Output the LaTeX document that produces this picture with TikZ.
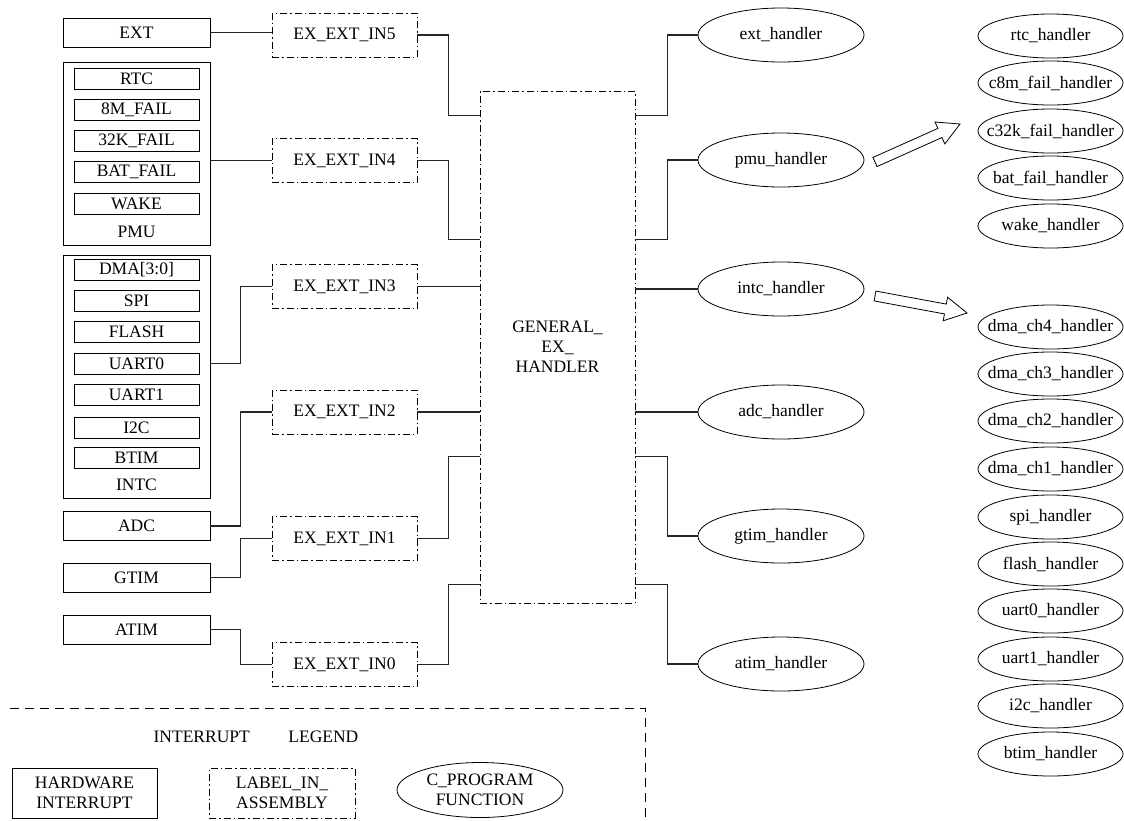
\documentclass[tikz,border=0pt]{standalone}
\usepackage{fontspec}
\setmainfont{Liberation Serif}
\usetikzlibrary{shapes.geometric,calc}
\newcommand\zb[1]{\makebox[0pt]{#1}}
\newcommand\harr[2]{%
  \coordinate (#1h) at ($(#2)!22pt!(#1)$);
  \draw[harrow] ($(#1)!5pt!90:(#2)$) -- ($(#1h)!5pt!-90:(#1)$) -- ($(#1h)!12pt!-90:(#1)$) -- (#2)
    -- ($(#1h)!12pt!90:(#1)$) -- ($(#1h)!5pt!90:(#1)$) -- ($(#1)!5pt!-90:(#2)$) -- cycle;}
\begin{document}
\begin{tikzpicture}[x=1pt,y=-1pt,
  every node/.style={font=\fontsize{17.5}{20}\selectfont, inner sep=0pt},
  hw/.style={draw, line width=0.8pt, minimum width=147pt, minimum height=29pt},
  sub/.style={draw, line width=0.8pt, minimum width=125pt, minimum height=21pt},
  grp/.style={draw, line width=0.8pt, minimum width=147pt},
  lbl/.style={draw, line width=0.8pt, dash pattern=on 7pt off 3pt on 1.5pt off 3pt, minimum width=145pt, minimum height=44pt},
  fn/.style={draw, ellipse, line width=0.8pt, minimum width=166pt, minimum height=54pt},
  sfn/.style={draw, ellipse, line width=0.8pt, minimum width=145pt, minimum height=44pt},
  wire/.style={draw, line width=1.2pt, black!85},
  harrow/.style={draw, line width=0.8pt}]
\useasboundingbox (0,0) rectangle (1124,820);

% hardware sources
\node[hw] (ext) at (136.5,32.5) {EXT};
\node[grp, minimum height=183pt] (pmu) at (136.5,153.5) {};
\node[sub] (rtc) at (136.5,78.5) {RTC};
\node[sub] (m8) at (136.5,109.5) {8M\_FAIL};
\node[sub] (k32) at (136.5,140.5) {32K\_FAIL};
\node[sub] (bat) at (136.5,171.5) {BAT\_FAIL};
\node[sub] (wake) at (136.5,203.5) {WAKE};
\node (pmul) at (136.5,232) {PMU};
\node[grp, minimum height=243pt] (intc) at (136.5,376.5) {};
\node[sub] (dma) at (136.5,269.5) {DMA[3:0]};
\node[sub] (spi) at (136.5,300.5) {SPI};
\node[sub] (flash) at (136.5,331.5) {FLASH};
\node[sub] (uart0) at (136.5,363.5) {UART0};
\node[sub] (uart1) at (136.5,394.5) {UART1};
\node[sub] (i2c) at (136.5,427.5) {I2C};
\node[sub] (btim) at (136.5,457.5) {BTIM};
\node (intcl) at (136.5,485) {INTC};
\node[hw] (adc) at (136.5,526) {ADC};
\node[hw] (gtim) at (136.5,577.5) {GTIM};
\node[hw] (atim) at (136.5,629.5) {ATIM};

% assembly labels
\node[lbl] (in5) at (344.5,35) {EX\_EXT\_IN5};
\node[lbl] (in4) at (344.5,160.5) {EX\_EXT\_IN4};
\node[lbl] (in3) at (344.5,286.5) {EX\_EXT\_IN3};
\node[lbl] (in2) at (344.5,412) {EX\_EXT\_IN2};
\node[lbl] (in1) at (344.5,538.5) {EX\_EXT\_IN1};
\node[lbl] (in0) at (344.5,664.5) {EX\_EXT\_IN0};

\node[lbl, minimum width=155pt, minimum height=512pt, align=center] (geh) at (557.5,347) {GENERAL\_\\EX\_\\HANDLER};

% handlers
\node[fn] (exth) at (781,35) {ext\_handler};
\node[fn] (pmuh) at (781,160) {pmu\_handler};
\node[fn] (intch) at (781,289) {intc\_handler};
\node[fn] (adch) at (781,412) {adc\_handler};
\node[fn] (gtimh) at (781,536) {gtim\_handler};
\node[fn] (atimh) at (781,664) {atim\_handler};

\node[sfn] (rtch) at (1050.5,36) {\zb{rtc\_handler}};
\node[sfn] (c8mh) at (1050.5,83) {\zb{c8m\_fail\_handler}};
\node[sfn] (c32kh) at (1050.5,131) {\zb{c32k\_fail\_handler}};
\node[sfn] (bath) at (1050.5,178) {\zb{bat\_fail\_handler}};
\node[sfn] (wakeh) at (1050.5,226) {\zb{wake\_handler}};
\node[sfn] (d4h) at (1050.5,327) {\zb{dma\_ch4\_handler}};
\node[sfn] (d3h) at (1050.5,374) {\zb{dma\_ch3\_handler}};
\node[sfn] (d2h) at (1050.5,421) {\zb{dma\_ch2\_handler}};
\node[sfn] (d1h) at (1050.5,469) {\zb{dma\_ch1\_handler}};
\node[sfn] (spih) at (1050.5,517) {\zb{spi\_handler}};
\node[sfn] (flashh) at (1050.5,564) {\zb{flash\_handler}};
\node[sfn] (u0h) at (1050.5,611) {\zb{uart0\_handler}};
\node[sfn] (u1h) at (1050.5,659) {\zb{uart1\_handler}};
\node[sfn] (i2ch) at (1050.5,706) {\zb{i2c\_handler}};
\node[sfn] (btimh) at (1050.5,754) {\zb{btim\_handler}};

% wires left
\draw[wire] (ext.east) -- (ext.east -| in5.west);
\draw[wire] (pmu.east |- in4.west) -- (in4.west);
\draw[wire] (uart0 -| intc.east) -- ++(30,0) |- (in3.west);
\draw[wire] (adc.east) -- ++(30,0) |- (in2.west);
\draw[wire] (gtim.east) -- ++(30,0) |- (in1.west);
\draw[wire] (atim.east) -- ++(30,0) |- (in0.west);

% ports on general handler
\coordinate (gl5) at ($(geh.north west)+(0,25)$);
\coordinate (gl4) at ($(geh.north west)+(0,149)$);
\coordinate (gl1) at ($(geh.north west)+(0,366)$);
\coordinate (gl0) at ($(geh.north west)+(0,494)$);
\coordinate (gr5) at ($(geh.north east)+(0,25)$);
\coordinate (gr4) at ($(geh.north east)+(0,149)$);
\coordinate (gr1) at ($(geh.north east)+(0,366)$);
\coordinate (gr0) at ($(geh.north east)+(0,494)$);

\draw[wire] (in5.east) -- ++(31,0) |- (gl5);
\draw[wire] (in4.east) -- ++(31,0) |- (gl4);
\draw[wire] (in3.east) -- (in3.east -| geh.west);
\draw[wire] (in2.east) -- (in2.east -| geh.west);
\draw[wire] (in1.east) -- ++(31,0) |- (gl1);
\draw[wire] (in0.east) -- ++(31,0) |- (gl0);

\draw[wire] (gr5) -- ++(32,0) |- (exth.west);
\draw[wire] (gr4) -- ++(32,0) |- (pmuh.west);
\draw[wire] (intch.west -| geh.east) -- (intch.west);
\draw[wire] (adch.west -| geh.east) -- (adch.west);
\draw[wire] (gr1) -- ++(32,0) |- (gtimh.west);
\draw[wire] (gr0) -- ++(32,0) |- (atimh.west);

% hollow arrows
\coordinate (aa) at (875,162);
\coordinate (ab) at (960,124);
\coordinate (ba) at (875,296);
\coordinate (bb) at (967,313);
\harr{aa}{ab}
\harr{ba}{bb}

% legend
\draw[line width=0.9pt, dash pattern=on 9pt off 6pt] (10,708) -- (645,708) -- (645,822);
\node (legt) at (256,737) {INTERRUPT\hspace{2.2em}LEGEND};
\node[hw, minimum width=145pt, minimum height=50pt, align=center] (lhw) at (84.5,793) {HARDWARE\\INTERRUPT};
\node[lbl, minimum width=146pt, minimum height=50pt, align=center] (llb) at (282,793) {LABEL\_IN\_\\ASSEMBLY};
\node[fn, minimum height=55pt, align=center] (lfn) at (480,790) {\zb{C\_PROGRAM}\\\zb{FUNCTION}};
\end{tikzpicture}
\end{document}
